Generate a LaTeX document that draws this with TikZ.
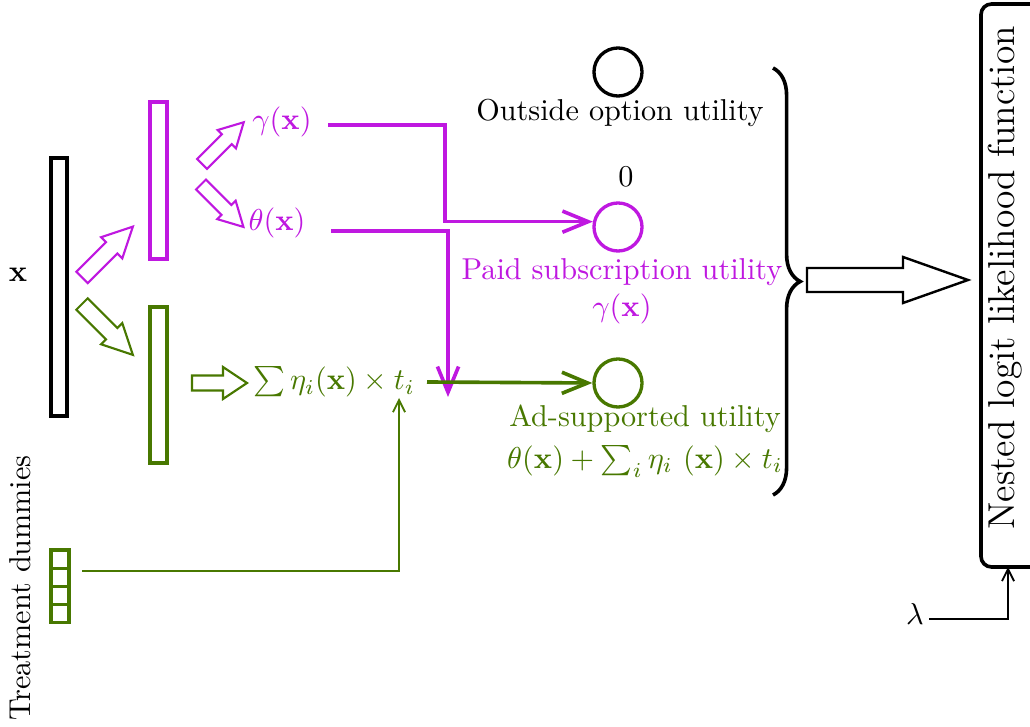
\documentclass[tikz,border=0pt]{standalone}
\usetikzlibrary{arrows.meta,decorations.pathreplacing}
\definecolor{magC}{RGB}{191,24,224}
\definecolor{grnC}{RGB}{72,120,0}
\newcommand{\hollowarrow}[8]{%
  \draw[#1, shift={(#2,#3)}, rotate=#4] (0,#6) -- (#5-#8,#6) -- (#5-#8,#7) -- (#5,0)
    -- (#5-#8,-#7) -- (#5-#8,-#6) -- (0,-#6) -- cycle;}
\begin{document}
\begin{tikzpicture}[x=0.331pt,y=-0.331pt,
  barbox/.style={line width=1.1pt},
  hollow/.style={line width=0.7pt},
  thickconn/.style={line width=1.2pt,-{Straight Barb[length=8.5pt,width=7pt]}},
  thinconn/.style={line width=0.6pt,-{Straight Barb[length=4pt,width=4pt]}},
  utilc/.style={circle,draw,line width=1.1pt,minimum size=15.9pt,inner sep=0pt},
  lbl/.style={inner sep=1pt}]
\useasboundingbox (0,0) rectangle (1030,727);

% input bars
\draw[barbox] (51,158) rectangle (67,416);
\node[lbl] (xlab) at (18,275) {$\mathbf{x}$};
\draw[barbox,magC] (150,102) rectangle (167,259);
\draw[barbox,grnC] (150,307) rectangle (167,463);

% hollow arrows
\hollowarrow{hollow,magC}{82}{277.5}{45}{72}{8}{15}{30}
\hollowarrow{hollow,grnC}{82}{304}{-45}{72}{8}{15}{30}
\hollowarrow{hollow,magC}{202}{164}{45}{59}{7}{13}{24}
\hollowarrow{hollow,magC}{201}{184.5}{-45}{60}{7}{13}{24}
\hollowarrow{hollow,grnC}{192}{383}{0}{55}{7.5}{16}{24}
\hollowarrow{line width=0.8pt}{807}{280}{0}{161}{12}{23}{65}

% labels
\node[lbl,text=magC] (gam) at (282,122) {$\gamma(\mathbf{x})$};
\node[lbl,text=magC] (the) at (277,223) {$\theta(\mathbf{x})$};
\node[lbl,text=grnC] (sum) at (334,382) {$\sum \eta_i(\mathbf{x}) \times t_i$};

% utility circles
\node[utilc] (out) at (618,72) {};
\node[utilc,magC] (paid) at (618,227) {};
\node[utilc,grnC] (ad) at (618,383) {};
\node[lbl] (outl) at (620,113) {Outside option utility};
\node[lbl] (zero) at (626,177) {0};
\node[lbl,text=magC,align=center] (paidl) at (622,291.5) {Paid subscription utility\\[0.4pt]$\gamma(\mathbf{x})$};
\node[lbl,text=grnC,align=center] (adl) at (645,441) {Ad-supported utility\\[2pt]$\theta(\mathbf{x}) + \sum_i \eta_i\ (\mathbf{x}) \times t_i$};

% magenta connectors
\coordinate (gs) at (328,125);
\coordinate (ts) at (331,231);
\coordinate (te) at (448,397);
\draw[thickconn,magC] (gs) -- (445,125) |- (paid.168);
\draw[thickconn,magC] (ts) -- (448,231) -- (te);
% green connectors
\coordinate (gls) at (427,382);
\draw[thickconn,grnC] (gls) -- (ad.west);

% treatment dummies
\node[rotate=90,lbl] (tdl) at (20,588) {Treatment dummies};
\foreach \k in {0,1,2,3}{
  \draw[grnC,line width=1pt] (51,550+18.2*\k) rectangle (69,550+18.2*\k+18.2);}
\coordinate (ds) at (82,571);
\coordinate (de) at (399,398);
\draw[thinconn,grnC] (ds) -| (de);

% brace
\draw[line width=1.2pt,decorate,decoration={brace,amplitude=9pt}] (773,68) -- (773,495);

% likelihood box
\draw[line width=1.2pt,rounded corners=3.5pt] (981,4) rectangle (1060,567);
\node[rotate=90,lbl] (nll) at (1005,278) {\fontsize{12.4}{15}\selectfont Nested logit likelihood function};
\coordinate (boxb) at (1008,567);
\node[lbl] (lam) at (915,614) {$\lambda$};
\draw[thinconn] (929,619) -| (boxb);
\end{tikzpicture}
\end{document}
